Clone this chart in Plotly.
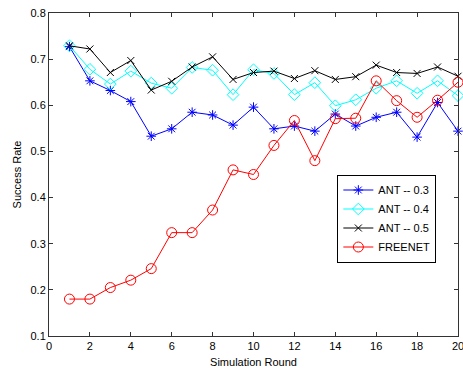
import plotly.graph_objects as go

rounds = list(range(1, 21))
ant_03 = [0.727, 0.653, 0.632, 0.608, 0.533, 0.549, 0.585, 0.579, 0.557, 0.596,
          0.549, 0.555, 0.544, 0.581, 0.555, 0.574, 0.585, 0.531, 0.606, 0.544]
ant_04 = [0.729, 0.678, 0.646, 0.674, 0.648, 0.637, 0.682, 0.676, 0.623, 0.677,
          0.669, 0.623, 0.649, 0.599, 0.612, 0.637, 0.653, 0.626, 0.653, 0.621]
ant_05 = [0.729, 0.722, 0.671, 0.697, 0.633, 0.652, 0.683, 0.705, 0.656, 0.671,
          0.674, 0.658, 0.675, 0.656, 0.662, 0.687, 0.671, 0.669, 0.683, 0.663]
freenet = [0.180, 0.180, 0.205, 0.221, 0.246, 0.324, 0.324, 0.373, 0.460, 0.450,
           0.513, 0.567, 0.480, 0.571, 0.572, 0.653, 0.610, 0.574, 0.611, 0.650]

x_ticks = list(range(0, 21, 2))
y_ticks = [0.1, 0.2, 0.3, 0.4, 0.5, 0.6, 0.7, 0.8]

series = [
    ("ANT -- 0.3", ant_03, "#0000FF", "asterisk-open", 8),
    ("ANT -- 0.4", ant_04, "#00FFFF", "diamond-open", 9),
    ("ANT -- 0.5", ant_05, "#000000", "x-thin-open", 7),
    ("FREENET", freenet, "#FF0000", "circle-open", 10),
]

fig = go.Figure()
for name, vals, color, sym, size in series:
    fig.add_trace(go.Scatter(
        x=rounds, y=vals, name=name, mode="lines+markers", cliponaxis=False,
        line=dict(color=color, width=1),
        marker=dict(symbol=sym, size=size, color=color, line=dict(color=color, width=1)),
    ))

font = dict(family="Liberation Sans, Arial, sans-serif", size=11, color="#000000")
axis_common = dict(
    showline=True, linecolor="#333333", linewidth=1, mirror="ticks",
    ticks="inside", ticklen=4, tickcolor="#333333", showgrid=False, zeroline=False,
    tickfont=font, ticklabeloverflow="allow", automargin=False,
)
fig.update_layout(
    width=463, height=368,
    margin=dict(l=49, r=5, t=13, b=32),
    paper_bgcolor="#FFFFFF", plot_bgcolor="#FFFFFF",
    font=font,
    showlegend=True,
    legend=dict(
        x=0.705, y=0.50, xanchor="left", yanchor="top",
        bgcolor="#FFFFFF", bordercolor="#000000", borderwidth=1,
        font=dict(family="Liberation Sans, Arial, sans-serif", size=11, color="#000000"),
        tracegroupgap=0, itemwidth=30,
    ),
    xaxis=dict(range=[0, 20], tickvals=x_ticks, ticktext=[str(v) for v in x_ticks],
               title=dict(text="Simulation Round", font=font, standoff=10), **axis_common),
    yaxis=dict(range=[0.1, 0.8], tickvals=y_ticks, ticktext=[f"{v:.1f}" for v in y_ticks],
               title=dict(text="Success Rate", font=font, standoff=6), **axis_common),
)

fig.write_html("out.html")
